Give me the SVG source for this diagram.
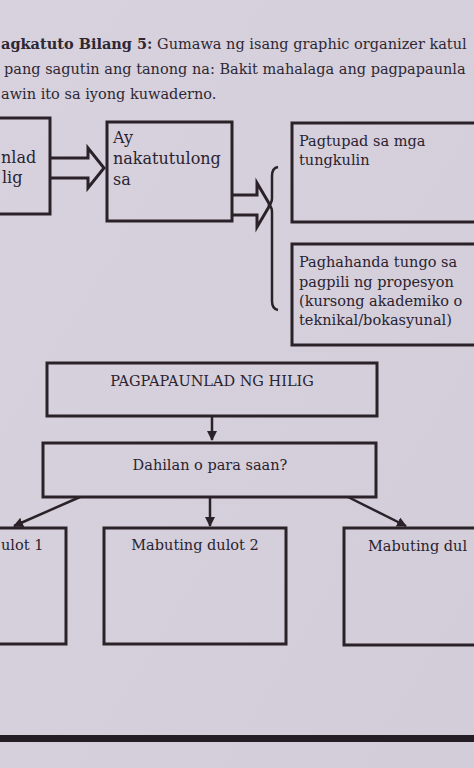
<svg xmlns="http://www.w3.org/2000/svg" width="474" height="768" viewBox="0 0 474 768">
<defs>
<style>
.t{font-family:"DejaVu Serif","Liberation Serif",serif;font-size:14.5px;fill:#2a2330}
.lg{font-size:16px}
.h{font-family:"DejaVu Serif","Liberation Serif",serif;font-size:14.5px;fill:#2e2834}
.b{font-weight:bold}
.box{fill:none;stroke:#2a2228;stroke-width:3}
.ln{fill:none;stroke:#2a2228;stroke-width:2.5}
.ha{fill:none;stroke:#2a2228;stroke-width:3;stroke-linejoin:miter}
</style>
<marker id="ah" viewBox="0 0 10 10" refX="9" refY="5" markerWidth="4" markerHeight="4" orient="auto" markerUnits="strokeWidth">
<path d="M0,0 L10,5 L0,10 z" fill="#2a2228"/>
</marker>
<linearGradient id="bg" x1="0" y1="0" x2="1" y2="1">
<stop offset="0" stop-color="#d8d2de"/>
<stop offset="1" stop-color="#d3cdd9"/>
</linearGradient>
</defs>
<rect x="0" y="0" width="474" height="768" fill="url(#bg)"/>

<g id="header">
<text class="h" x="1" y="49"><tspan class="b">agkatuto Bilang 5:</tspan> Gumawa ng isang graphic organizer katul</text>
<text class="h" x="4" y="74">pang sagutin ang tanong na: Bakit mahalaga ang pagpapaunla</text>
<text class="h" x="1" y="99">awin ito sa iyong kuwaderno.</text>
</g>

<g id="connectors">
<path class="ha" d="M50,158 H88 V148 L104,168 L88,188 V178 H50"/>
<path class="ha" d="M233,195 H257 V183 L270,205 L257,227 V215 H233"/>
<path class="ln" d="M278,167 Q272,168 272,176 V198 Q272,204 268,205 Q272,206 272,212 V301 Q272,309 278,310"/>
<line class="ln" x1="212" y1="416" x2="212" y2="440" marker-end="url(#ah)"/>
<line class="ln" x1="80" y1="497" x2="14" y2="526" marker-end="url(#ah)"/>
<line class="ln" x1="210" y1="497" x2="210" y2="526" marker-end="url(#ah)"/>
<line class="ln" x1="348" y1="497" x2="406" y2="526" marker-end="url(#ah)"/>
</g>

<g id="node-hilig">
<rect class="box" x="-10" y="118" width="60" height="96"/>
<text class="t lg" x="1" y="163">nlad</text>
<text class="t lg" x="2" y="183">lig</text>
</g>

<g id="node-nakatutulong">
<rect class="box" x="107" y="122" width="125" height="99"/>
<text class="t lg" x="113" y="143">Ay</text>
<text class="t lg" x="113" y="164">nakatutulong</text>
<text class="t lg" x="113" y="185">sa</text>
</g>

<g id="node-pagtupad">
<rect class="box" x="292" y="123" width="200" height="99"/>
<text class="t" x="299" y="146">Pagtupad sa mga</text>
<text class="t" x="299" y="165">tungkulin</text>
</g>

<g id="node-paghahanda">
<rect class="box" x="292" y="244" width="200" height="101"/>
<text class="t" x="299" y="267">Paghahanda tungo sa</text>
<text class="t" x="299" y="287">pagpili ng propesyon</text>
<text class="t" x="299" y="306">(kursong akademiko o</text>
<text class="t" x="299" y="325">teknikal/bokasyunal)</text>
</g>

<g id="node-pagpapaunlad">
<rect class="box" x="47" y="363" width="330" height="53"/>
<text class="t" x="212" y="386" text-anchor="middle">PAGPAPAUNLAD NG HILIG</text>
</g>

<g id="node-dahilan">
<rect class="box" x="43" y="443" width="333" height="54"/>
<text class="t" x="210" y="470" text-anchor="middle">Dahilan o para saan?</text>
</g>

<g id="node-dulot1">
<rect class="box" x="-10" y="528" width="76" height="116"/>
<text class="t" x="1" y="550">ulot 1</text>
</g>

<g id="node-dulot2">
<rect class="box" x="104" y="528" width="182" height="116"/>
<text class="t" x="195" y="550" text-anchor="middle">Mabuting dulot 2</text>
</g>

<g id="node-dulot3">
<rect class="box" x="344" y="528" width="150" height="117"/>
<text class="t" x="368" y="551">Mabuting dul</text>
</g>

<rect x="0" y="735" width="474" height="7" fill="#241e24"/>
</svg>
